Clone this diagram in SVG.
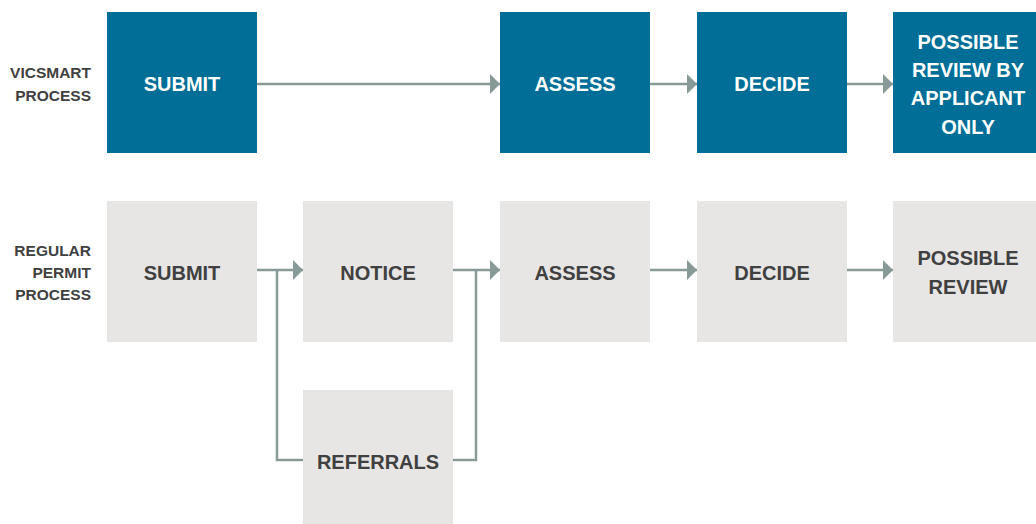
<svg xmlns="http://www.w3.org/2000/svg" width="1036" height="524" viewBox="0 0 1036 524">
<style>
.blue{fill:#006E96}
.gray{fill:#E7E6E5}
.t{font-family:"Liberation Sans",Arial,sans-serif;font-weight:bold;font-size:20px;text-anchor:middle}
.tw{fill:#FFFFFF}
.td{fill:#404040}
.lab{font-family:"Liberation Sans",Arial,sans-serif;font-weight:bold;font-size:15.5px;text-anchor:end;fill:#404040}
.c{fill:none;stroke:#879A98;stroke-width:2.5}
</style>
<defs>
<marker id="ah" markerWidth="10" markerHeight="20" refX="10" refY="10" orient="auto" markerUnits="userSpaceOnUse">
<path d="M0,0 L10,10 L0,20 Z" fill="#879A98"/>
</marker>
</defs>
<rect width="1036" height="524" fill="#FFFFFF"/>
<g id="labels">
<text class="lab" x="91" y="78">VICSMART</text>
<text class="lab" x="91" y="101">PROCESS</text>
<text class="lab" x="91" y="256">REGULAR</text>
<text class="lab" x="91" y="278">PERMIT</text>
<text class="lab" x="91" y="300">PROCESS</text>
</g>
<g id="connectors">
<path class="c" d="M257,84 H500" marker-end="url(#ah)"/>
<path class="c" d="M650,84 H697" marker-end="url(#ah)"/>
<path class="c" d="M847,84 H893" marker-end="url(#ah)"/>
<path class="c" d="M257,270 H303" marker-end="url(#ah)"/>
<path class="c" d="M277,270 V460 H303"/>
<path class="c" d="M453,270 H500" marker-end="url(#ah)"/>
<path class="c" d="M453,460 H476 V270"/>
<path class="c" d="M650,270 H697" marker-end="url(#ah)"/>
<path class="c" d="M847,270 H893" marker-end="url(#ah)"/>
</g>
<g id="v-submit">
<rect class="blue" x="107" y="12" width="150" height="141"/>
<text class="t tw" x="182" y="91">SUBMIT</text>
</g>
<g id="v-assess">
<rect class="blue" x="500" y="12" width="150" height="141"/>
<text class="t tw" x="575" y="91">ASSESS</text>
</g>
<g id="v-decide">
<rect class="blue" x="697" y="12" width="150" height="141"/>
<text class="t tw" x="772" y="91">DECIDE</text>
</g>
<g id="v-review">
<rect class="blue" x="893" y="12" width="150" height="141"/>
<text class="t tw" x="968" y="49">POSSIBLE</text>
<text class="t tw" x="968" y="77">REVIEW BY</text>
<text class="t tw" x="968" y="105">APPLICANT</text>
<text class="t tw" x="968" y="134">ONLY</text>
</g>
<g id="r-submit">
<rect class="gray" x="107" y="201" width="150" height="141"/>
<text class="t td" x="182" y="280">SUBMIT</text>
</g>
<g id="r-notice">
<rect class="gray" x="303" y="201" width="150" height="141"/>
<text class="t td" x="378" y="280">NOTICE</text>
</g>
<g id="r-assess">
<rect class="gray" x="500" y="201" width="150" height="141"/>
<text class="t td" x="575" y="280">ASSESS</text>
</g>
<g id="r-decide">
<rect class="gray" x="697" y="201" width="150" height="141"/>
<text class="t td" x="772" y="280">DECIDE</text>
</g>
<g id="r-review">
<rect class="gray" x="893" y="201" width="150" height="141"/>
<text class="t td" x="968" y="265">POSSIBLE</text>
<text class="t td" x="968" y="294">REVIEW</text>
</g>
<g id="r-referrals">
<rect class="gray" x="303" y="390" width="150" height="141"/>
<text class="t td" x="378" y="469">REFERRALS</text>
</g>
</svg>
